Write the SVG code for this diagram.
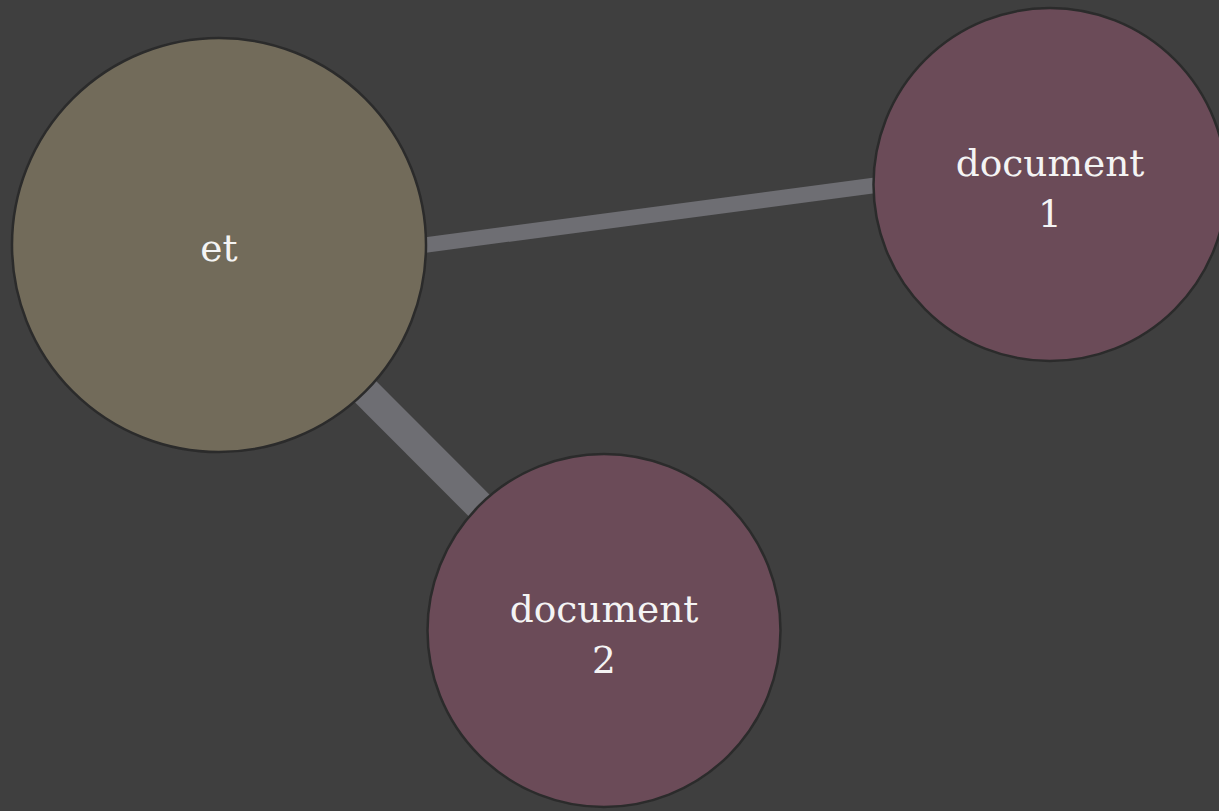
<svg xmlns="http://www.w3.org/2000/svg" width="1219" height="811" viewBox="0 0 1219 811">
  <style>
    .edge { stroke: #6e6e73; fill: none; }
    .node circle { stroke: #2b2b2b; stroke-width: 2.5; }
    .term circle { fill: #726b5a; }
    .doc circle { fill: #6b4b58; }
    .node text { font-family: "DejaVu Serif", "Liberation Serif", serif; font-size: 37.5px; fill: #f4f4f4; text-anchor: middle; }
  </style>
  <rect width="1219" height="811" fill="#3f3f3f"/>

  <!-- connectors -->
  <g id="edges">
    <line class="edge" x1="400" y1="248.4" x2="900" y2="182" stroke-width="15.5"/>
    <line class="edge" x1="219" y1="245" x2="604" y2="630.5" stroke-width="30"/>
  </g>

  <!-- nodes -->
  <g id="node-et" class="node term">
    <circle cx="219" cy="245" r="207"/>
    <text x="219" y="261">et</text>
  </g>
  <g id="node-document-1" class="node doc">
    <circle cx="1050" cy="184.5" r="176.5"/>
    <text x="1050" y="176">document</text>
    <text x="1050" y="227">1</text>
  </g>
  <g id="node-document-2" class="node doc">
    <circle cx="604" cy="630.5" r="176.5"/>
    <text x="604" y="622">document</text>
    <text x="604" y="673">2</text>
  </g>
</svg>
